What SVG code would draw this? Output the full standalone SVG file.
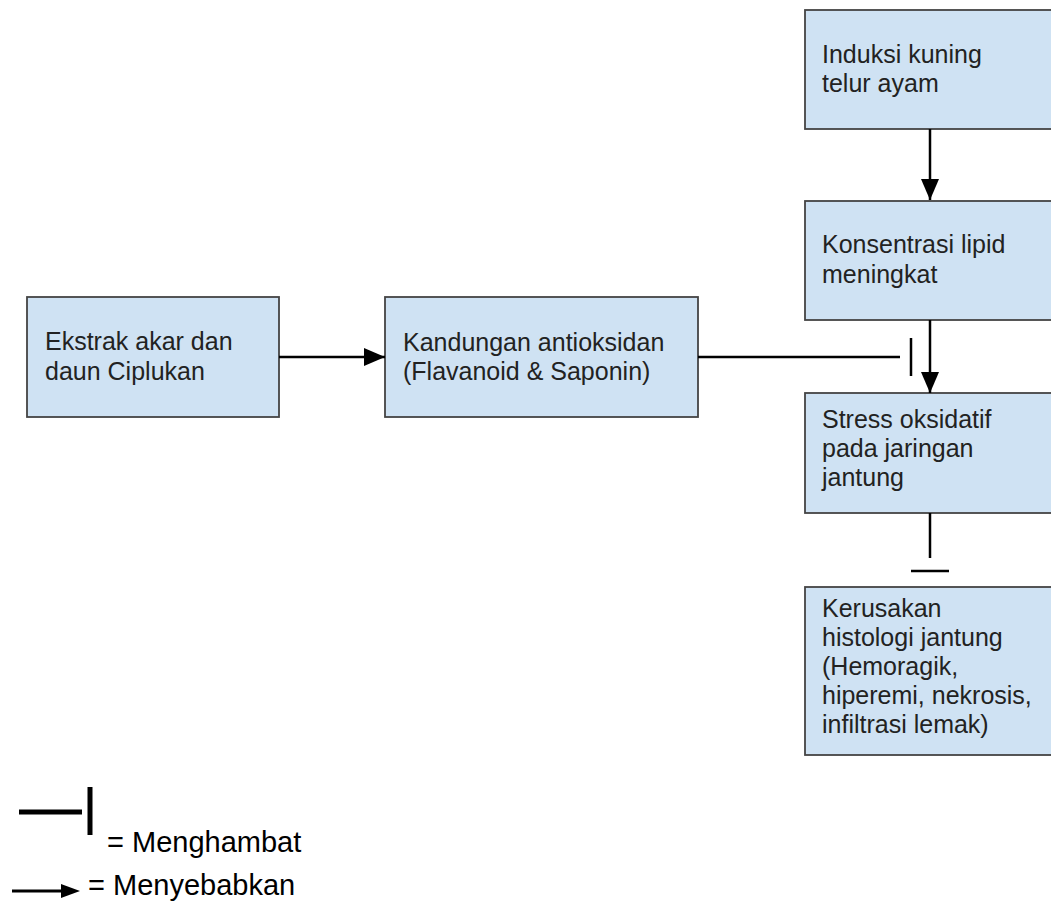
<svg xmlns="http://www.w3.org/2000/svg" width="1051" height="909" viewBox="0 0 1051 909">
<defs>
<style>
.box{fill:#cfe2f3;stroke:#444;stroke-width:1.8}
.t{font-family:"Liberation Sans",Arial,sans-serif;font-size:25px;fill:#222}
.lg{font-family:"Liberation Sans",Arial,sans-serif;font-size:29px;fill:#000}
.c{stroke:#000;stroke-width:2.5;fill:none}
</style>
<marker id="arr" markerUnits="userSpaceOnUse" markerWidth="21" markerHeight="18" refX="21" refY="9" orient="auto">
<path d="M0,0 L21,9 L0,18 Z" fill="#000"/>
</marker>
</defs>
<rect width="1051" height="909" fill="#fff"/>
<g id="n-induksi">
<rect class="box" x="805" y="10" width="260" height="119"/>
<text class="t" x="822" y="63">Induksi kuning</text>
<text class="t" x="822" y="92">telur ayam</text>
</g>
<g id="n-konsentrasi">
<rect class="box" x="805" y="201" width="260" height="119"/>
<text class="t" x="822" y="253">Konsentrasi lipid</text>
<text class="t" x="822" y="283">meningkat</text>
</g>
<g id="n-ekstrak">
<rect class="box" x="27" y="297" width="252" height="120"/>
<text class="t" x="45" y="350">Ekstrak akar dan</text>
<text class="t" x="45" y="380">daun Ciplukan</text>
</g>
<g id="n-kandungan">
<rect class="box" x="385" y="297" width="313" height="120"/>
<text class="t" x="403" y="351">Kandungan antioksidan</text>
<text class="t" x="403" y="380">(Flavanoid &amp; Saponin)</text>
</g>
<g id="n-stress">
<rect class="box" x="805" y="393" width="260" height="120"/>
<text class="t" x="822" y="428">Stress oksidatif</text>
<text class="t" x="822" y="457">pada jaringan</text>
<text class="t" x="822" y="486">jantung</text>
</g>
<g id="n-kerusakan">
<rect class="box" x="805" y="587" width="260" height="168"/>
<text class="t" x="822" y="617">Kerusakan</text>
<text class="t" x="822" y="646">histologi jantung</text>
<text class="t" x="822" y="675">(Hemoragik,</text>
<text class="t" x="822" y="704">hiperemi, nekrosis,</text>
<text class="t" x="822" y="733">infiltrasi lemak)</text>
</g>
<g id="connectors">
<line class="c" x1="279" y1="357" x2="385" y2="357" marker-end="url(#arr)"/>
<line class="c" x1="930" y1="129" x2="930" y2="200" marker-end="url(#arr)"/>
<line class="c" x1="930" y1="320" x2="930" y2="393" marker-end="url(#arr)"/>
<line class="c" x1="698" y1="357" x2="900" y2="357"/>
<line class="c" x1="911" y1="338" x2="911" y2="376" stroke-width="3"/>
<line class="c" x1="930" y1="513" x2="930" y2="558"/>
<line class="c" x1="911" y1="571" x2="949" y2="571" stroke-width="3"/>
</g>
<g id="legend">
<line x1="19" y1="812" x2="82" y2="812" stroke="#000" stroke-width="5"/>
<line x1="90" y1="787" x2="90" y2="835" stroke="#000" stroke-width="5"/>
<text class="lg" x="107" y="852">= Menghambat</text>
<line x1="12" y1="891" x2="64" y2="891" stroke="#000" stroke-width="3"/>
<path d="M61,884 L80,891 L61,898 Z" fill="#000"/>
<text class="lg" x="88" y="895">= Menyebabkan</text>
</g>
</svg>
